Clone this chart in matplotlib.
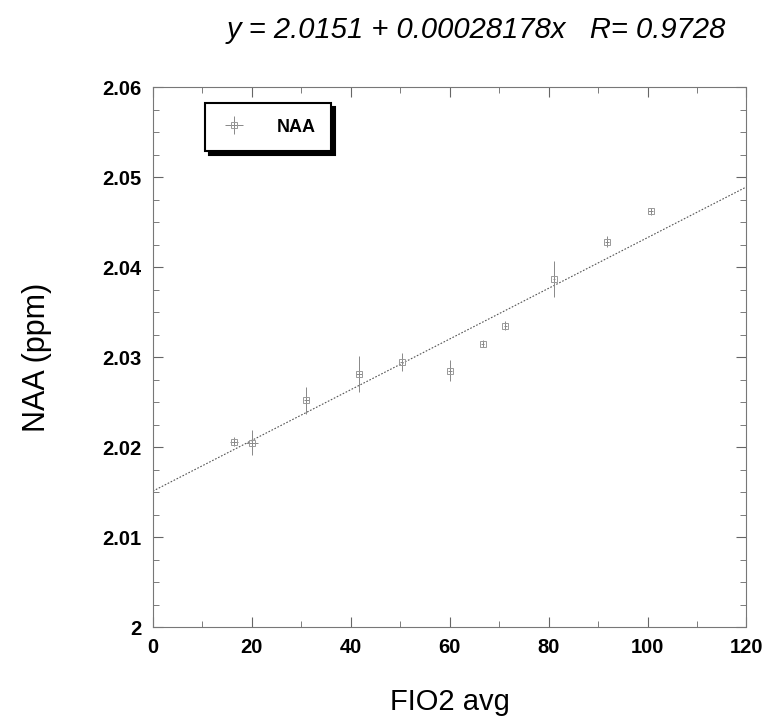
import matplotlib
matplotlib.use("Agg")
import matplotlib.pyplot as plt
import numpy as np
from matplotlib.ticker import MultipleLocator

plt.rcParams['font.family'] = ['Liberation Sans', 'DejaVu Sans']

# Data
fio2 = [16.4, 20.0, 31.0, 41.7, 50.3, 60.0, 66.7, 71.2, 81.1, 91.8, 100.6]
naa = [2.0206, 2.0205, 2.0252, 2.0281, 2.0295, 2.0285, 2.0315, 2.0335, 2.0387, 2.0428, 2.0462]
naa_err = [0.0005, 0.0014, 0.0015, 0.0020, 0.0010, 0.0012, 0.0004, 0.0005, 0.0020, 0.0006, 0.0004]
fio2_err = [0.8, 1.2, 0.5, 0.6, 0.3, 0.4, 0.3, 0.3, 0.2, 0.4, 0.5]

intercept = 2.0151
slope = 0.00028178
r_value = 0.9728

y_ticks = [2.0, 2.01, 2.02, 2.03, 2.04, 2.05, 2.06]
y_tick_labels = ['2', '2.01', '2.02', '2.03', '2.04', '2.05', '2.06']

fig = plt.figure(figsize=(7.68, 7.16), dpi=100)
ax = fig.add_axes([0.199, 0.1243, 0.773, 0.754])

ax.errorbar(fio2, naa, yerr=naa_err, xerr=fio2_err, fmt='s', ms=5, mfc='none',
            mec='#999999', mew=0.7, ecolor='#888888', elinewidth=0.7, capsize=0,
            label='NAA', zorder=3)

xl = np.array([0, 120])
ax.plot(xl, intercept + slope * xl, color='#555555', lw=0.8, ls=(0, (1.5, 1.5)), zorder=2)

ax.set_xlim(0, 120)
ax.set_ylim(2.0, 2.06)
ax.xaxis.set_major_locator(MultipleLocator(20))
ax.xaxis.set_minor_locator(MultipleLocator(10))
ax.set_yticks(y_ticks)
ax.set_yticklabels(y_tick_labels)
ax.yaxis.set_minor_locator(MultipleLocator(0.0025))

ax.tick_params(which='both', direction='in', top=True, right=True, color='#666666')
ax.tick_params(which='major', length=7, width=0.8, labelsize=14.5, pad=8)
ax.tick_params(which='minor', length=4, width=0.6)
for lab in ax.get_xticklabels() + ax.get_yticklabels():
    lab.set_fontweight('bold')
for sp in ax.spines.values():
    sp.set_color('#777777')
    sp.set_linewidth(0.8)
    sp.set_linestyle((0, (2, 1)))

ax.set_xlabel('FIO2 avg', fontsize=21, labelpad=22)
ax.set_ylabel('NAA (ppm)', fontsize=22, labelpad=36)

fig.text(0.62, 0.958, 'y = 2.0151 + 0.00028178x   R= 0.9728', ha='center', va='center',
         fontsize=21, style='italic')

leg = ax.legend(loc='upper left', bbox_to_anchor=(0.088, 0.97), borderaxespad=0,
                frameon=True, fancybox=False,
                shadow={'color': 'black', 'alpha': 1.0, 'ox': 3, 'oy': -3},
                handlelength=1.5, borderpad=0.85, handletextpad=1.6,
                prop={'weight': 'bold', 'size': 13})
leg.get_frame().set_edgecolor('black')
leg.get_frame().set_linewidth(1.5)

fig.savefig('out.png', dpi=100)
